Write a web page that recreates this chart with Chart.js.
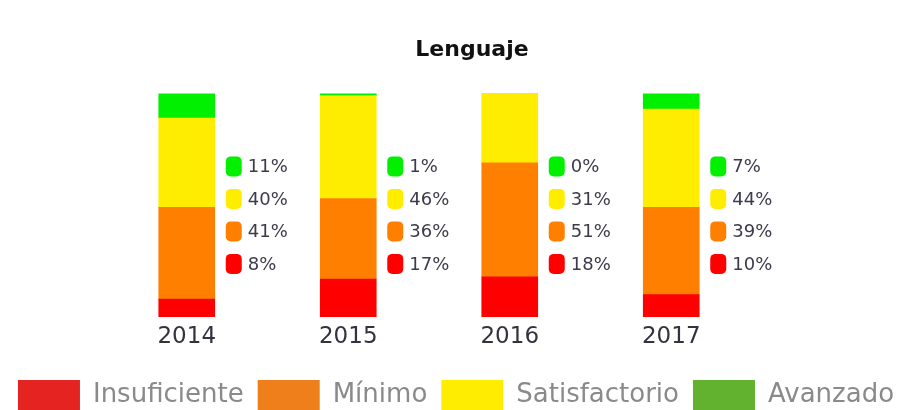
<!DOCTYPE html>
<html>
<head>
<meta charset="utf-8">
<script src="https://cdn.jsdelivr.net/npm/chart.js@4"></script>
<style>
  html, body { margin: 0; padding: 0; background: #fff; }
  #wrap { width: 912px; height: 410px; }
</style>
</head>
<body>
<div id="wrap"><canvas id="chart" width="912" height="410"></canvas></div>
<script>
const years = ['2014', '2015', '2016', '2017'];
const insuficiente = [8, 17, 18, 10];
const minimo = [41, 36, 51, 39];
const satisfactorio = [40, 46, 31, 44];
const avanzado = [11, 1, 0, 7];
const levelNames = ['Insuficiente', 'Mínimo', 'Satisfactorio', 'Avanzado'];
const barColors = ['#ff0000', '#ff8000', '#ffed00', '#00f000'];
const legendColors = ['#e52421', '#ef7f1a', '#ffed00', '#63b22f'];

const series = [insuficiente, minimo, satisfactorio, avanzado];

// percentages with little rounded squares, right of each bar (Avanzado on top)
const pctLabels = {
  id: 'pctLabels',
  afterLayout(chart) {
    // title sits a bit right of the canvas centre in the original
    chart.titleBlock.left += 16
    chart.titleBlock.right += 16
  },
  afterDatasetsDraw(chart) {
    const ctx = chart.ctx
    const top = chart.chartArea.top
    ctx.save()
    ctx.font = '18px "DejaVu Sans"'
    ctx.textBaseline = 'middle'
    ctx.textAlign = 'left'
    years.forEach((_y, i) => {
      const bar = chart.getDatasetMeta(0).data[i]
      const x = bar.x + bar.width / 2 + 11
      for (let row = 0; row < 4; row++) {
        const ds = 3 - row
        const cy = top + 73 + row * 32.5
        ctx.fillStyle = barColors[ds]
        ctx.beginPath()
        ctx.roundRect(x, cy - 10, 16, 20, 5)
        ctx.fill()
        ctx.fillStyle = '#3b3b4b'
        ctx.fillText(series[ds][i] + '%', x + 22, cy + 1)
      }
    })
    ctx.restore()
  }
}

const ctx = document.getElementById('chart').getContext('2d')

new Chart(ctx, {
  type: 'bar',
  data: {
    labels: years,
    datasets: levelNames.map((name, k) => ({
      label: name,
      data: series[k],
      backgroundColor: barColors[k],
      borderWidth: 0,
      barThickness: 56,
    }))
  },
  options: {
    responsive: false,
    animation: false,
    layout: { padding: { left: 0, right: 0, top: 0, bottom: -10 } },
    scales: {
      x: {
        stacked: true,
        grid: { display: false, drawTicks: false },
        border: { display: false },
        ticks: { color: '#333340', font: { family: 'DejaVu Sans', size: 23 }, padding: 6 },
        afterFit(scale) { scale.height = 49 },
      },
      y: {
        stacked: true,
        min: 0,
        max: 100,
        grid: { display: false, drawTicks: false },
        border: { display: false },
        ticks: { display: false },
        afterFit(scale) { scale.width = 106 },
      },
      y2: {
        position: 'right',
        min: 0,
        max: 100,
        grid: { display: false, drawTicks: false },
        border: { display: false },
        ticks: { display: false },
        afterFit(scale) { scale.width = 160 },
      },
    },
    plugins: {
      title: {
        display: true,
        text: 'Lenguaje',
        color: '#111',
        font: { family: 'DejaVu Sans', size: 22, weight: 'bold' },
        padding: { top: 37, bottom: 30 },
      },
      legend: {
        position: 'bottom',
        labels: {
          boxWidth: 62,
          boxHeight: 30,
          padding: 14,
          color: '#8a8a8a',
          font: { family: 'DejaVu Sans', size: 26 },
          generateLabels(chart) {
            return levelNames.map((name, k) => ({
              text: name,
              fillStyle: legendColors[k],
              strokeStyle: legendColors[k],
              lineWidth: 0,
              fontColor: '#8a8a8a',
              datasetIndex: k,
            }))
          }
        }
      },
      tooltip: { enabled: false },
    }
  },
  plugins: [pctLabels]
})
</script>
</body>
</html>
